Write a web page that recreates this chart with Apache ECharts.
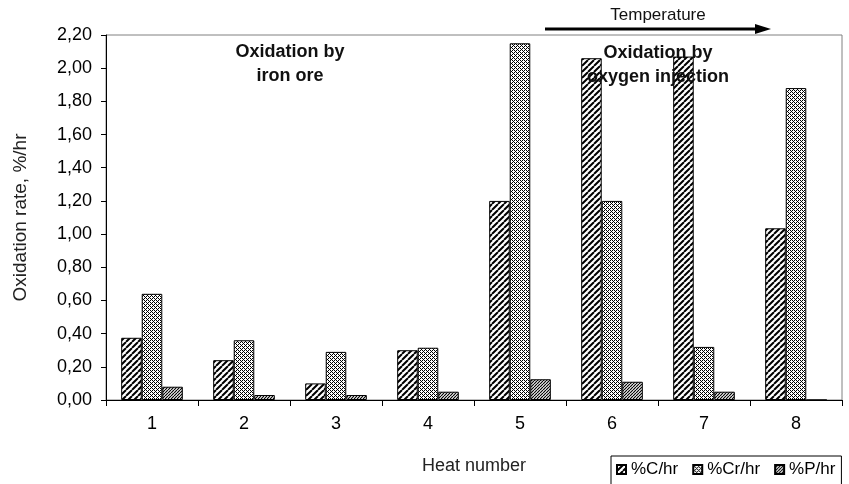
<!DOCTYPE html>
<html>
<head>
<meta charset="utf-8">
<script src="https://cdn.jsdelivr.net/npm/echarts@6/dist/echarts.min.js"></script>
<style>
html,body{margin:0;padding:0;background:#fff;}
#chart{width:849px;height:484px;}
</style>
</head>
<body>
<div id="chart"></div>
<script>
const categories = ['1', '2', '3', '4', '5', '6', '7', '8'];
const cRate  = [0.375, 0.24, 0.10, 0.30, 1.20, 2.06, 2.07, 1.035];
const crRate = [0.64, 0.36, 0.29, 0.315, 2.15, 1.20, 0.32, 1.88];
const pRate  = [0.08, 0.03, 0.03, 0.05, 0.125, 0.11, 0.05, 0];
const seriesNames = ['%C/hr', '%Cr/hr', '%P/hr'];
const yMin = 0, yMax = 2.2, yStep = 0.2;

const FONT = '"Liberation Sans", Arial, sans-serif';

function stripeTile(size, lw) {
  const c = document.createElement('canvas');
  c.width = size; c.height = size;
  const g = c.getContext('2d');
  g.fillStyle = '#fff'; g.fillRect(0, 0, size, size);
  g.strokeStyle = '#000'; g.lineWidth = lw;
  g.beginPath();
  for (const k of [-size, 0, size]) { g.moveTo(k, size); g.lineTo(k + size, 0); }
  g.stroke();
  return c;
}
function dotTile() {
  const rows = ['X.X.', '.X..', 'X.X.', '...X'];
  const c = document.createElement('canvas');
  c.width = 4; c.height = 4;
  const g = c.getContext('2d');
  g.fillStyle = '#fff'; g.fillRect(0, 0, 4, 4);
  g.fillStyle = '#000';
  rows.forEach((r, y) => { for (let x = 0; x < 4; x++) if (r[x] === 'X') g.fillRect(x, y, 1, 1); });
  return c;
}
const fills = [
  { image: stripeTile(6, 2), repeat: 'repeat' },
  { image: dotTile(), repeat: 'repeat' },
  { image: stripeTile(3, 1.2), repeat: 'repeat' }
];
const seriesData = [cRate, crRate, pRate];

const chart = echarts.init(document.getElementById('chart'), null, { renderer: 'canvas' });
chart.setOption({
  animation: false,
  backgroundColor: '#fff',
  textStyle: { fontFamily: FONT },
  grid: { left: 106, right: 7, top: 35, bottom: 84, show: true, borderColor: '#808080', borderWidth: 1 },
  legend: {
    left: 611, top: 456,
    padding: [5, 6, 14, 5],
    borderColor: '#000', borderWidth: 1,
    icon: 'rect', itemWidth: 9, itemHeight: 9, itemGap: 14,
    textStyle: { fontSize: 17, color: '#000', fontFamily: FONT },
    data: seriesNames
  },
  xAxis: {
    type: 'category',
    data: categories,
    name: 'Heat number',
    nameLocation: 'middle',
    nameGap: 57,
    nameTextStyle: { fontSize: 18, color: '#222', fontFamily: FONT },
    axisLine: { lineStyle: { color: '#000', width: 1 } },
    axisTick: { show: true, length: 6, lineStyle: { color: '#000' } },
    axisLabel: { fontSize: 18, color: '#000', margin: 15, fontFamily: FONT }
  },
  yAxis: {
    type: 'value',
    min: yMin, max: yMax, interval: yStep,
    name: 'Oxidation rate, %/hr',
    nameLocation: 'middle',
    nameGap: 76,
    nameTextStyle: { fontSize: 19, color: '#222', fontFamily: FONT },
    axisLine: { show: true, lineStyle: { color: '#000', width: 1 } },
    axisTick: { show: true, length: 5, lineStyle: { color: '#000' } },
    splitLine: { show: false },
    axisLabel: { fontSize: 18, color: '#000', margin: 14, fontFamily: FONT,
      formatter: v => v.toFixed(2).replace('.', ',') }
  },
  series: seriesNames.map((n, i) => ({
    name: n,
    type: 'bar',
    data: seriesData[i],
    barGap: '0%',
    barCategoryGap: '33%',
    itemStyle: { color: fills[i], borderColor: '#000', borderWidth: 1 }
  })),
  graphic: [
    { type: 'text', x: 290, y: 40, z: 100,
      style: { text: 'Oxidation by\niron ore', font: 'bold 18px ' + FONT, fill: '#111', textAlign: 'center', textVerticalAlign: 'top', lineHeight: 24 } },
    { type: 'text', x: 658, y: 41, z: 100,
      style: { text: 'Oxidation by\noxygen injection', font: 'bold 18px ' + FONT, fill: '#111', textAlign: 'center', textVerticalAlign: 'top', lineHeight: 24 } },
    { type: 'text', x: 658, y: 7, z: 100,
      style: { text: 'Temperature', font: '17px ' + FONT, fill: '#111', textAlign: 'center', textVerticalAlign: 'top' } },
    { type: 'line', z: 100, shape: { x1: 545, y1: 29, x2: 758, y2: 29 }, style: { stroke: '#000', lineWidth: 3 } },
    { type: 'polygon', z: 100, shape: { points: [[755, 24], [771, 29], [755, 34]] }, style: { fill: '#000' } }
  ]
});
</script>
</body>
</html>
